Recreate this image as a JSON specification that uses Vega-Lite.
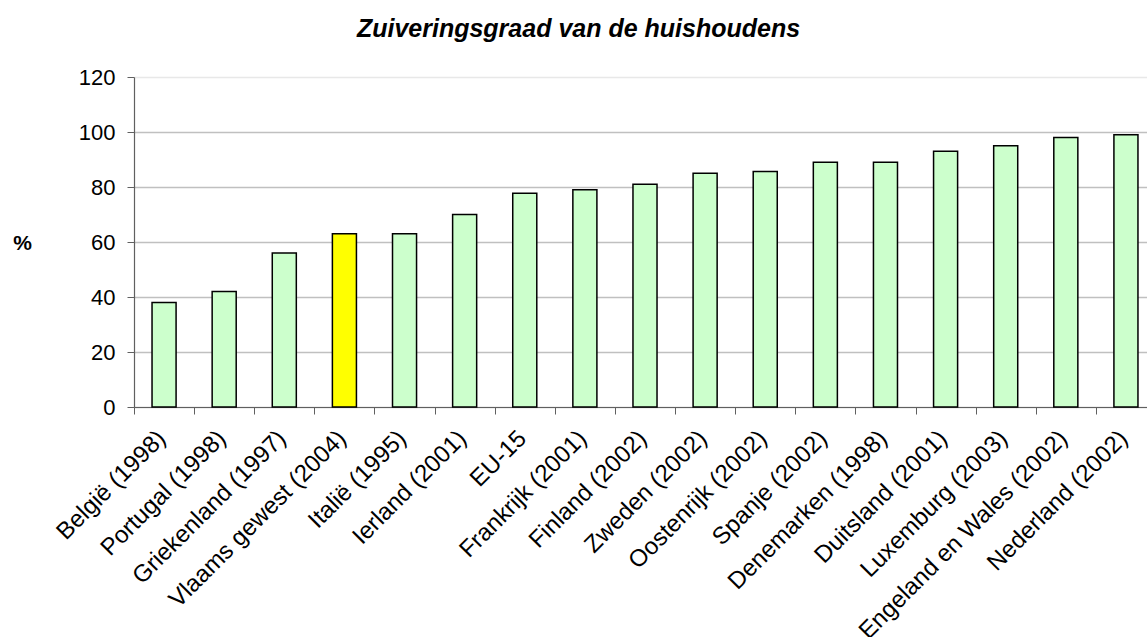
{
  "$schema": "https://vega.github.io/schema/vega-lite/v6.json",
  "autosize": {"type": "none"},
  "padding": {"left": 134, "top": 77, "right": 0, "bottom": 230},
  "width": 1013,
  "height": 330,
  "background": "white",
  "title": {
    "text": "Zuiveringsgraad van de huishoudens",
    "font": "Liberation Sans",
    "fontSize": 25,
    "fontWeight": "bold",
    "fontStyle": "italic",
    "color": "black",
    "anchor": "middle",
    "frame": "group",
    "baseline": "alphabetic",
    "dx": -62,
    "offset": 4
  },
  "data": {
    "values": [
      {"land": "België (1998)", "pct": 38, "groep": "land"},
      {"land": "Portugal (1998)", "pct": 42, "groep": "land"},
      {"land": "Griekenland (1997)", "pct": 56, "groep": "land"},
      {"land": "Vlaams gewest (2004)", "pct": 63, "groep": "vlaanderen"},
      {"land": "Italië (1995)", "pct": 63, "groep": "land"},
      {"land": "Ierland (2001)", "pct": 70, "groep": "land"},
      {"land": "EU-15", "pct": 77.7, "groep": "land"},
      {"land": "Frankrijk (2001)", "pct": 79, "groep": "land"},
      {"land": "Finland (2002)", "pct": 81, "groep": "land"},
      {"land": "Zweden (2002)", "pct": 85, "groep": "land"},
      {"land": "Oostenrijk (2002)", "pct": 85.6, "groep": "land"},
      {"land": "Spanje (2002)", "pct": 89, "groep": "land"},
      {"land": "Denemarken (1998)", "pct": 89, "groep": "land"},
      {"land": "Duitsland (2001)", "pct": 93, "groep": "land"},
      {"land": "Luxemburg (2003)", "pct": 95, "groep": "land"},
      {"land": "Engeland en Wales (2002)", "pct": 98, "groep": "land"},
      {"land": "Nederland (2002)", "pct": 99, "groep": "land"}
    ]
  },
  "mark": {"type": "bar", "stroke": "black", "strokeWidth": 1.5, "width": {"band": 0.4}},
  "encoding": {
    "x": {
      "field": "land",
      "type": "nominal",
      "sort": null,
      "scale": {"range": [0, 1022], "paddingInner": 0, "paddingOuter": 0},
      "axis": {
        "title": null,
        "labelAngle": -45,
        "labelAlign": "right",
        "labelBaseline": "top",
        "labelFont": "Liberation Sans",
        "labelFontSize": 24,
        "labelColor": "black",
        "labelPadding": 12,
        "labelOffset": -11,
        "labelOverlap": false,
        "labelLimit": 0,
        "tickBand": "extent",
        "tickSize": 7,
        "tickColor": "#606060",
        "domainColor": "#606060",
        "domainWidth": 1.2,
        "grid": false
      }
    },
    "y": {
      "field": "pct",
      "type": "quantitative",
      "scale": {"domain": [0, 120], "nice": false},
      "axis": {
        "values": [0, 20, 40, 60, 80, 100, 120],
        "title": "%",
        "titleAngle": 0,
        "titleFont": "Liberation Sans",
        "titleFontSize": 21,
        "titleFontWeight": "bold",
        "titleColor": "black",
        "titleAlign": "center",
        "titleBaseline": "middle",
        "titleX": -112,
        "titleY": 166,
        "labelFont": "Liberation Sans",
        "labelFontSize": 22,
        "labelColor": "black",
        "labelPadding": 12,
        "tickSize": 7,
        "tickColor": "#606060",
        "domainColor": "#606060",
        "domainWidth": 1.2,
        "grid": true,
        "gridColor": {"condition": {"test": "datum.value == 120", "value": "#e8e8e8"}, "value": "#c0c0c0"},
        "gridWidth": 1.5
      }
    },
    "fill": {
      "field": "groep",
      "type": "nominal",
      "scale": {"domain": ["land", "vlaanderen"], "range": ["#ccffcc", "#ffff00"]},
      "legend": null
    }
  },
  "config": {"view": {"stroke": null}}
}
